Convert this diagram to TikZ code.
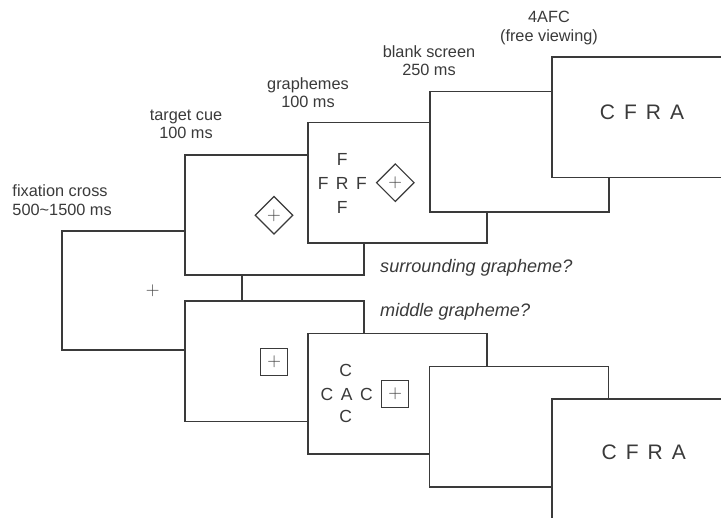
\documentclass[tikz,border=0pt]{standalone}
\usepackage{fontspec}
\setmainfont{Liberation Sans}
\usetikzlibrary{shapes.geometric}
\definecolor{ink}{HTML}{3A3A3A}
\newcommand{\plusmark}{{\fontfamily{lmr}\fontsize{19}{19}\selectfont +}}
\begin{document}
\begin{tikzpicture}[x=1pt,y=-1pt,
  screen/.style={draw=ink,line width=1.6pt,fill=white,rectangle,inner sep=0pt,outer sep=0pt,
    minimum width=179pt,minimum height=120.3pt,anchor=north west},
  steplabel/.style={text=ink,font=\fontsize{16.3}{18.5}\selectfont,align=center,inner sep=0pt},
  question/.style={text=ink,font=\fontsize{18.1}{21}\selectfont\itshape,anchor=west,inner sep=0pt},
  cuediamond/.style={draw=ink,line width=1.2pt,shape=diamond,minimum width=38pt,minimum height=38pt,
    inner sep=0pt,text=ink},
  cuesquare/.style={draw=ink,line width=1.2pt,rectangle,minimum size=27pt,inner sep=0pt,text=ink},
  fixmark/.style={text=ink,inner sep=0pt},
  glyph/.style={text=ink,inner sep=0pt,font=\fontsize{17.5}{20}\selectfont},
  choice/.style={text=ink,inner sep=0pt,font=\fontsize{21}{24}\selectfont},
]
\useasboundingbox (0,0) rectangle (721,518);
\clip (0,0) rectangle (721,518);

% screens (drawn back to front)
\node[screen,minimum width=179.7pt,minimum height=119pt] (fix) at (62,231) {};
\node[screen] (cue1) at (185,155) {};
\node[screen,minimum height=120.9pt] (cue2) at (185,300.8) {};
\node[screen] (graph1) at (307.7,122.7) {};
\node[screen] (graph2) at (307.7,333.7) {};
\node[screen] (blank1) at (429.7,91.7) {};
\node[screen,minimum height=120.6pt] (blank2) at (429.5,366.7) {};
\node[screen] (afc1) at (551.7,57.3) {};
\node[screen,minimum height=120.5pt] (afc2) at (551.7,399) {};

% contents
\node[fixmark] (fixplus) at (152.7,290.3) {\plusmark};
\node[cuediamond] (cue1mark) at (274,215.3) {\plusmark};
\node[cuediamond] (graph1mark) at (395.3,182.7) {\plusmark};
\node[cuesquare] (cue2mark) at (274.2,361.7) {\plusmark};
\node[cuesquare] (graph2mark) at (395.2,393.7) {\plusmark};

\node[glyph] (g1t) at (342.3,159.3) {F};
\node[glyph] (g1m) at (342.3,183) {\spaceskip=7.5pt F R F};
\node[glyph] (g1b) at (342.3,207) {F};
\node[glyph] (g2t) at (345.7,370) {C};
\node[glyph] (g2m) at (346.7,394.3) {\spaceskip=7.5pt C A C};
\node[glyph] (g2b) at (345.7,416.7) {C};

\node[choice] (cfra1) at (642,111.8) {\spaceskip=9pt C F R A};
\node[choice] (cfra2) at (643.7,452.3) {\spaceskip=9pt C F R A};

% labels
\node[steplabel,align=left,anchor=west] (lfix) at (12.3,200) {fixation cross\\500\textasciitilde1500 ms};
\node[steplabel] (lcue) at (186,124.2) {target cue\\100 ms};
\node[steplabel] (lgraph) at (308,92.7) {graphemes\\100 ms};
\node[steplabel] (lblank) at (429,60.7) {blank screen\\250 ms};
\node[steplabel] (lafc) at (549,27.9) {4AFC\\(free viewing)};

\node[question] (q1) at (380,268) {surrounding grapheme?};
\node[question] (q2) at (380,311.4) {middle grapheme?};
\end{tikzpicture}
\end{document}
